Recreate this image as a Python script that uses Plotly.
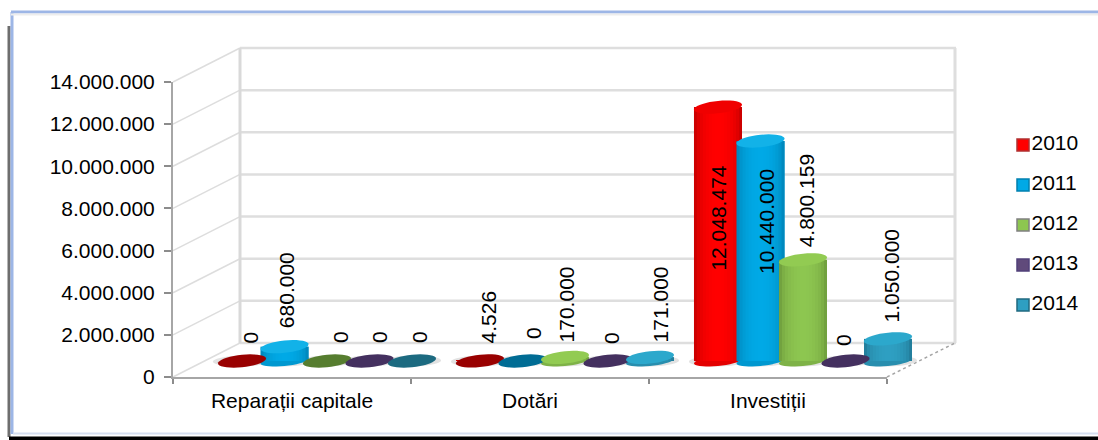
import math
import plotly.graph_objects as go

CATEGORIES = ["Reparații capitale", "Dotări", "Investiții"]
YEARS = ["2010", "2011", "2012", "2013", "2014"]
V2010 = [0, 4526, 12048474]
V2011 = [680000, 0, 10440000]
V2012 = [0, 170000, 4800159]
V2013 = [0, 0, 0]
V2014 = [0, 171000, 1050000]
SERIES = [V2010, V2011, V2012, V2013, V2014]
Y_TICKS = [0, 2000000, 4000000, 6000000, 8000000, 10000000, 12000000, 14000000]

# styles: (edge, centre, cap, flat cap)
STYLES = [
    ("#A50000", "#FF0000", "#F00000", "#990000"),
    ("#00709E", "#00A9E6", "#12B2E8", "#006C94"),
    ("#5C8532", "#8DC650", "#92CB52", "#567D2F"),
    ("#3A2A58", "#604A7B", "#6A5290", "#44305F"),
    ("#1B6680", "#2E9FC2", "#2CA8CC", "#1C6A80"),
]
LEGEND_LINES = ["#B03030", "#0080B0", "#808080", "#50407A", "#206A80"]

# label placement, px relative to the bar top centre (series x category)
LABEL_DX = [[8.5, 8, 1], [2, 10.5, 6], [13, 1, 3], [9.5, 3.5, -2.5], [7, 10, 3]]
LABEL_LIFT = [[16, 16, -165], [17, 20, -135], [16, 13, 10], [16, 15, 13], [16, 13, 14]]

W, H = 1098, 440
FX0, FX1, FY0, FY1 = 173, 887, 377, 82      # front axes box, px
DX, DY = 67, 34                             # depth of the box, px
BX, BY = 35, 16                             # bars shift, px
STEP, BARW = 0.1786, 0.2017
SLICES = 16
FONT = "Liberation Sans"
FS = 21
SCALE = (FY0 - FY1) / Y_TICKS[-1]
Y2_FLOOR = -1000000


def px(x):
    return x / W


def py(y):
    return 1 - y / H


def mix(a, b, t):
    ca = [int(a[i:i + 2], 16) for i in (1, 3, 5)]
    cb = [int(b[i:i + 2], 16) for i in (1, 3, 5)]
    return "#%02x%02x%02x" % tuple(round(p + (q - p) * t) for p, q in zip(ca, cb))


def ellipse(hw, hh, shear=0.1, n=36):
    pts = []
    for k in range(n):
        a = 2 * math.pi * k / n
        ex = hw * math.cos(a)
        ey = hh * math.sin(a) + shear * ex
        pts.append(("M" if k == 0 else "L") + f"{ex:.2f},{ey:.2f}")
    return " ".join(pts) + " Z"


def pline(x0, y0, x1, y1, color, width, dash="solid"):
    return dict(type="line", xref="paper", yref="paper", x0=px(x0), y0=py(y0), x1=px(x1), y1=py(y1),
                line=dict(color=color, width=width, dash=dash), layer="below")


def disc(cat, s, value, hw, hh, color, layer, shear=0.1):
    return dict(type="path", xref="x2", yref="y2", xsizemode="pixel", ysizemode="pixel",
                xanchor=cat + (s - 2) * STEP, yanchor=value, path=ellipse(hw, hh, shear),
                fillcolor=color, line=dict(width=0), layer=layer)


fig = go.Figure()
shapes = []

# frame
shapes += [
    pline(9, 26, 9, 437, "#6E6E6E", 3),
    pline(12, 12, 12, 434, "#9DB6E6", 3),
    pline(11, 12, W, 12, "#9DB6E6", 3),
    pline(11, 14.5, W, 14.5, "#EDEDED", 2),
    pline(13, 433.5, W, 433.5, "#D5DEEF", 2),
    pline(9, 438.5, W, 438.5, "#000000", 4),
]

# walls
for v in Y_TICKS:
    y = FY0 - v * SCALE
    shapes.append(pline(FX0, y, FX0 + DX, y - DY, "#DDDDDD", 1.5))
    shapes.append(pline(FX0 + DX, y - DY, FX1 + DX + 2, y - DY, "#DEDEDE", 2.5))
shapes.append(pline(FX0 + DX, FY1 - DY, FX0 + DX, FY0 - DY, "#D9D9D9", 3))
shapes.append(pline(FX1 + DX + 1, FY1 - DY, FX1 + DX + 1, FY0 - DY, "#DEDEDE", 3))
shapes.append(pline(FX1, FY0, FX1 + DX + 1, FY0 - DY, "#A6A6A6", 1.5, "dot"))

# floor shadows and bottom discs
for s, vals in enumerate(SERIES):
    for c, v in enumerate(vals):
        shapes.append(disc(c, s, 0, 29, 5.5, "#E2E2E2", "below", 0.02))
for s, vals in enumerate(SERIES):
    for c, v in enumerate(vals):
        if v >= 100000:
            shapes.append(disc(c, s, 0, 24, 5, mix(STYLES[s][0], STYLES[s][1], 0.7), "below"))

# cylinder bodies
for s, vals in enumerate(SERIES):
    edge, centre, _, _ = STYLES[s]
    for k in range(SLICES):
        u = (k + 0.5) / SLICES
        t = math.sin(math.pi * u) ** 0.35
        remaining = (SLICES - k) * BARW / SLICES
        fig.add_trace(go.Bar(
            x=CATEGORIES, y=vals, xaxis="x2", yaxis="y2", showlegend=False,
            name=YEARS[s], hoverinfo="skip",
            width=min(BARW / SLICES * 2.5, remaining),
            offset=(s - 2) * STEP - BARW / 2 + k * BARW / SLICES,
            marker=dict(color=mix(edge, centre, t), line=dict(width=0)),
        ))

# top caps
for s, vals in enumerate(SERIES):
    for c, v in enumerate(vals):
        color = STYLES[s][2] if v >= 100000 else STYLES[s][3]
        shapes.append(disc(c, s, v, 24, 6.2, color, "above"))

# value labels
annotations = []
for s, vals in enumerate(SERIES):
    for c, v in enumerate(vals):
        annotations.append(dict(
            xref="x2", yref="y2", x=c + (s - 2) * STEP, y=v,
            text=f"{v:,}".replace(",", "."), textangle=-90, showarrow=False,
            xanchor="center", yanchor="bottom",
            xshift=LABEL_DX[s][c], yshift=LABEL_LIFT[s][c],
            font=dict(family=FONT, size=FS, color="#000000"),
        ))

# front axes (walls-facing category and value axes)
fig.add_trace(go.Scatter(
    x=CATEGORIES, y=[0, 0, 0], xaxis="x", yaxis="y", mode="markers",
    marker=dict(opacity=0, size=1), showlegend=False, hoverinfo="skip",
))

# legend: marker + text column
fig.add_trace(go.Scatter(
    x=[0] * len(YEARS), y=YEARS, xaxis="x3", yaxis="y3", mode="markers+text",
    text=YEARS, textposition="middle right", showlegend=False, hoverinfo="skip", cliponaxis=False,
    textfont=dict(family=FONT, size=FS, color="#000000"),
    marker=dict(symbol="square", size=12, color=[st[1] for st in STYLES],
                line=dict(color=LEGEND_LINES, width=1.5)),
))

fig.update_layout(
    width=W, height=H, autosize=False, margin=dict(l=0, r=0, t=0, b=0),
    paper_bgcolor="#FFFFFF", plot_bgcolor="rgba(0,0,0,0)",
    barmode="overlay", separators=",.", showlegend=False,
    shapes=shapes, annotations=annotations,
    font=dict(family=FONT, size=FS, color="#000000"),
    xaxis=dict(domain=[px(FX0), px(FX1)], type="category", categoryorder="array", automargin=False,
               categoryarray=CATEGORIES, tickmode="array", tickvals=CATEGORIES, ticktext=CATEGORIES,
               range=[-0.5, 2.5], showgrid=False, zeroline=False, showline=True,
               linecolor="#A6A6A6", linewidth=2, ticks="outside", ticklen=5, tickcolor="#8C8C8C",
               tickwidth=1.5, tickson="boundaries", anchor="y", ticklabelstandoff=4,
               tickfont=dict(family=FONT, size=FS)),
    yaxis=dict(domain=[py(FY0), py(FY1)], range=[0, Y_TICKS[-1]], tickmode="array", tickvals=Y_TICKS,
               tickformat=",d", showgrid=False, zeroline=False, showline=True, automargin=False,
               linecolor="#A6A6A6", linewidth=2, ticks="outside", ticklen=7, tickcolor="#8C8C8C",
               tickwidth=1.5, anchor="x", ticklabelstandoff=5,
               tickfont=dict(family=FONT, size=FS)),
    xaxis2=dict(domain=[px(FX0 + BX), px(FX1 + BX)], type="category", categoryorder="array", automargin=False,
                categoryarray=CATEGORIES, range=[-0.5, 2.5], visible=False, anchor="y2"),
    yaxis2=dict(domain=[py(FY0 - BY - Y2_FLOOR * SCALE), py(FY1 - BY)], range=[Y2_FLOOR, Y_TICKS[-1]],
                visible=False, anchor="x2", automargin=False),
    xaxis3=dict(domain=[px(1012), px(1034)], range=[-1, 1], visible=False, anchor="y3", automargin=False),
    yaxis3=dict(domain=[py(327), py(127)], type="category", categoryorder="array", categoryarray=YEARS,
                range=[4.55, -0.45], visible=False, anchor="x3", automargin=False),
)

fig.write_html("out.html", config={"displayModeBar": False},
               post_script="document.body.style.margin='0';document.body.style.overflow='hidden';")
